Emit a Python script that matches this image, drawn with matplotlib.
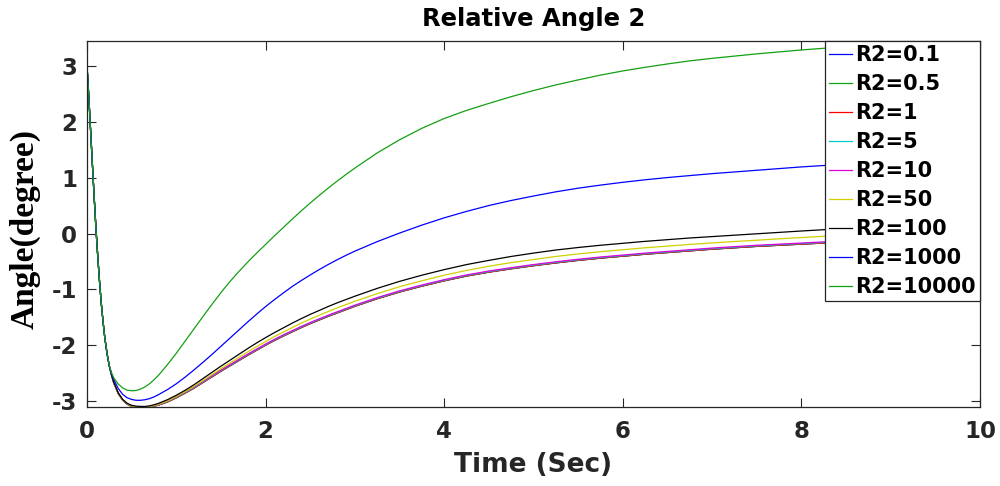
import matplotlib
matplotlib.use("Agg")
import matplotlib.pyplot as plt

# Simulation time (s)
time_s = [0.00, 0.02, 0.04, 0.06, 0.08, 0.10, 0.12, 0.14, 0.16, 0.18,
          0.20, 0.225, 0.25, 0.275, 0.30, 0.35, 0.40, 0.45, 0.50, 0.55,
          0.60, 0.65, 0.70, 0.75, 0.80,
          0.9, 1.0, 1.1, 1.2, 1.3, 1.4, 1.5, 1.6, 1.7, 1.8, 1.9,
          2.0, 2.1, 2.2, 2.3, 2.4, 2.5, 2.6, 2.7, 2.8, 2.9, 3.0,
          3.25, 3.5, 3.75, 4.0, 4.25, 4.5, 4.75, 5.0, 5.25, 5.5, 5.75,
          6.0, 6.25, 6.5, 6.75, 7.0, 7.25, 7.5, 7.75, 8.0, 8.25, 8.5,
          8.75, 9.0, 9.25, 9.5, 9.75, 10.0]

# Relative angle 2 (degree) for each R2 setting
angle_r2_0p1 = [3.00, 2.45, 1.85, 1.25, 0.66, 0.10, -0.40, -0.85, -1.25, -1.58,
                -1.87, -2.15, -2.37, -2.53, -2.67, -2.86, -2.98, -3.05, -3.09, -3.105,
                -3.11, -3.11, -3.10, -3.085, -3.065,
                -3.01, -2.935, -2.85, -2.76, -2.66, -2.56, -2.46, -2.365, -2.27, -2.175, -2.085,
                -1.995, -1.91, -1.83, -1.755, -1.68, -1.61, -1.545, -1.48, -1.42, -1.36, -1.30,
                -1.165, -1.045, -0.94, -0.845, -0.76, -0.69, -0.63, -0.575, -0.525, -0.48, -0.44,
                -0.405, -0.37, -0.34, -0.31, -0.28, -0.255, -0.23, -0.21, -0.19, -0.17, -0.152,
                -0.135, -0.12, -0.105, -0.09, -0.077, -0.065]
angle_r2_0p5 = [3.00, 2.45, 1.85, 1.25, 0.66, 0.10, -0.40, -0.85, -1.25, -1.58,
                -1.87, -2.15, -2.37, -2.53, -2.67, -2.86, -2.98, -3.05, -3.09, -3.105,
                -3.11, -3.11, -3.10, -3.085, -3.065,
                -3.01, -2.935, -2.85, -2.76, -2.66, -2.56, -2.46, -2.365, -2.27, -2.175, -2.085,
                -1.995, -1.91, -1.83, -1.755, -1.68, -1.61, -1.545, -1.48, -1.42, -1.36, -1.30,
                -1.165, -1.045, -0.94, -0.845, -0.76, -0.69, -0.63, -0.575, -0.525, -0.48, -0.44,
                -0.405, -0.37, -0.34, -0.31, -0.28, -0.255, -0.23, -0.21, -0.19, -0.17, -0.152,
                -0.135, -0.12, -0.105, -0.09, -0.077, -0.065]
angle_r2_1 = [3.00, 2.45, 1.85, 1.25, 0.66, 0.10, -0.40, -0.85, -1.25, -1.58,
              -1.87, -2.15, -2.37, -2.53, -2.67, -2.86, -2.98, -3.05, -3.09, -3.105,
              -3.11, -3.11, -3.10, -3.085, -3.065,
              -3.01, -2.935, -2.85, -2.76, -2.66, -2.56, -2.46, -2.365, -2.27, -2.175, -2.085,
              -1.995, -1.91, -1.83, -1.755, -1.68, -1.61, -1.545, -1.48, -1.42, -1.36, -1.30,
              -1.165, -1.045, -0.94, -0.845, -0.76, -0.69, -0.63, -0.575, -0.525, -0.48, -0.44,
              -0.405, -0.37, -0.34, -0.31, -0.28, -0.255, -0.23, -0.21, -0.19, -0.17, -0.152,
              -0.135, -0.12, -0.105, -0.09, -0.077, -0.065]
angle_r2_5 = [3.00, 2.45, 1.85, 1.25, 0.66, 0.10, -0.40, -0.85, -1.25, -1.58,
              -1.87, -2.15, -2.37, -2.53, -2.67, -2.855, -2.975, -3.045, -3.085, -3.10,
              -3.105, -3.105, -3.095, -3.08, -3.06,
              -3.00, -2.925, -2.84, -2.75, -2.65, -2.55, -2.45, -2.355, -2.26, -2.165, -2.075,
              -1.985, -1.90, -1.82, -1.745, -1.67, -1.60, -1.535, -1.47, -1.41, -1.35, -1.29,
              -1.155, -1.035, -0.93, -0.835, -0.75, -0.68, -0.62, -0.565, -0.515, -0.47, -0.43,
              -0.395, -0.36, -0.33, -0.30, -0.27, -0.245, -0.22, -0.20, -0.18, -0.16, -0.142,
              -0.125, -0.11, -0.095, -0.08, -0.067, -0.055]
angle_r2_10 = [3.00, 2.45, 1.85, 1.25, 0.66, 0.10, -0.40, -0.85, -1.25, -1.58,
               -1.87, -2.15, -2.37, -2.53, -2.67, -2.85, -2.97, -3.04, -3.08, -3.095,
               -3.10, -3.10, -3.09, -3.075, -3.055,
               -2.99, -2.915, -2.83, -2.74, -2.64, -2.54, -2.44, -2.345, -2.25, -2.155, -2.065,
               -1.975, -1.89, -1.81, -1.735, -1.66, -1.59, -1.525, -1.46, -1.40, -1.34, -1.28,
               -1.145, -1.025, -0.92, -0.825, -0.74, -0.67, -0.61, -0.555, -0.505, -0.46, -0.42,
               -0.385, -0.35, -0.32, -0.29, -0.26, -0.235, -0.21, -0.19, -0.17, -0.15, -0.132,
               -0.115, -0.10, -0.085, -0.07, -0.057, -0.045]
angle_r2_50 = [3.00, 2.45, 1.85, 1.25, 0.66, 0.10, -0.40, -0.85, -1.25, -1.58,
               -1.87, -2.15, -2.37, -2.53, -2.665, -2.855, -2.97, -3.04, -3.08, -3.095,
               -3.10, -3.10, -3.09, -3.073, -3.05,
               -2.99, -2.91, -2.825, -2.73, -2.625, -2.52, -2.415, -2.315, -2.215, -2.115, -2.02,
               -1.93, -1.84, -1.76, -1.68, -1.60, -1.53, -1.46, -1.395, -1.33, -1.27, -1.21,
               -1.075, -0.95, -0.845, -0.745, -0.66, -0.585, -0.52, -0.465, -0.41, -0.365, -0.325,
               -0.29, -0.255, -0.225, -0.195, -0.168, -0.143, -0.12, -0.095, -0.072, -0.05, -0.03,
               -0.013, 0.003, 0.018, 0.032, 0.045, 0.057]
angle_r2_100 = [3.00, 2.45, 1.85, 1.25, 0.66, 0.10, -0.40, -0.85, -1.25, -1.58,
                -1.87, -2.15, -2.37, -2.53, -2.66, -2.85, -2.965, -3.035, -3.07, -3.085,
                -3.09, -3.09, -3.08, -3.06, -3.035,
                -2.97, -2.89, -2.80, -2.70, -2.59, -2.48, -2.37, -2.265, -2.16, -2.055, -1.955,
                -1.86, -1.77, -1.685, -1.60, -1.52, -1.445, -1.375, -1.305, -1.24, -1.18, -1.12,
                -0.98, -0.855, -0.745, -0.645, -0.555, -0.48, -0.41, -0.35, -0.295, -0.25, -0.21,
                -0.175, -0.14, -0.11, -0.08, -0.055, -0.03, -0.005, 0.02, 0.045, 0.068, 0.09,
                0.108, 0.125, 0.14, 0.155, 0.168, 0.18]
angle_r2_1000 = [3.00, 2.45, 1.85, 1.25, 0.66, 0.10, -0.40, -0.85, -1.25, -1.58,
                 -1.87, -2.15, -2.37, -2.50, -2.61, -2.77, -2.875, -2.935, -2.965, -2.98,
                 -2.98, -2.97, -2.95, -2.92, -2.88,
                 -2.79, -2.685, -2.565, -2.435, -2.30, -2.16, -2.015, -1.87, -1.725, -1.58, -1.44,
                 -1.305, -1.18, -1.06, -0.945, -0.84, -0.74, -0.645, -0.555, -0.47, -0.39, -0.315,
                 -0.145, 0.008, 0.15, 0.28, 0.395, 0.50, 0.59, 0.67, 0.745, 0.81, 0.865,
                 0.915, 0.96, 1.00, 1.035, 1.07, 1.10, 1.13, 1.16, 1.19, 1.215, 1.24,
                 1.26, 1.28, 1.30, 1.315, 1.33, 1.345]
angle_r2_10000 = [3.00, 2.45, 1.85, 1.25, 0.66, 0.10, -0.40, -0.85, -1.25, -1.58,
                  -1.87, -2.15, -2.37, -2.49, -2.58, -2.69, -2.76, -2.80, -2.81, -2.805,
                  -2.78, -2.74, -2.685, -2.615, -2.535,
                  -2.345, -2.14, -1.92, -1.70, -1.48, -1.265, -1.055, -0.86, -0.68, -0.51, -0.35,
                  -0.195, -0.04, 0.11, 0.26, 0.405, 0.545, 0.68, 0.81, 0.935, 1.055, 1.17,
                  1.44, 1.675, 1.88, 2.055, 2.20, 2.325, 2.445, 2.555, 2.655, 2.745, 2.83,
                  2.905, 2.97, 3.03, 3.085, 3.13, 3.17, 3.21, 3.245, 3.28, 3.31, 3.34,
                  3.365, 3.385, 3.40, 3.415, 3.43, 3.44]

labels = ["R2=0.1", "R2=0.5", "R2=1", "R2=5", "R2=10",
          "R2=50", "R2=100", "R2=1000", "R2=10000"]
series = [angle_r2_0p1, angle_r2_0p5, angle_r2_1, angle_r2_5, angle_r2_10,
          angle_r2_50, angle_r2_100, angle_r2_1000, angle_r2_10000]
colors = ["#0000ff", "#14a014", "#ff0000", "#00c8c8", "#e000e0",
          "#d0d000", "#000000", "#0000ff", "#14a014"]

x_ticks = [0, 2, 4, 6, 8, 10]
y_ticks = [-3, -2, -1, 0, 1, 2, 3]

sans = "DejaVu Sans"
axis_color = "#262626"

fig = plt.figure(figsize=(10.0, 4.86), dpi=100)
ax = fig.add_axes([0.087, 1 - 407 / 486, 0.893, 366 / 486])

for values, label, color in zip(series, labels, colors):
    ax.plot(time_s, values, color=color, lw=0.9, label=label)

ax.set_xlim(0, 10)
ax.set_ylim(-3.10, 3.44)
ax.set_xticks(x_ticks)
ax.set_yticks(y_ticks)
ax.set_xticklabels([str(v) for v in x_ticks])
ax.set_yticklabels([str(v) for v in y_ticks])

ax.tick_params(direction="in", top=True, right=True, length=6.5, width=0.8,
               color=axis_color, labelcolor=axis_color, labelsize=16.5)
ax.tick_params(axis="x", pad=9)
ax.tick_params(axis="y", pad=7)
for lab in ax.get_xticklabels() + ax.get_yticklabels():
    lab.set_fontfamily(sans)
    lab.set_fontweight("bold")
for spine in ax.spines.values():
    spine.set_color(axis_color)
    spine.set_linewidth(0.9)

ax.set_title("Relative Angle 2", fontsize=17.5, fontweight="bold", family=sans,
             y=1 + (41 - 19) / 366, pad=0, va="center", color="#000000")
ax.set_xlabel("Time (Sec)", fontsize=19, fontweight="bold", family=sans,
              va="center", color=axis_color)
ax.xaxis.set_label_coords(0.5, -(465 - 407) / 366)
ax.set_ylabel("Angle(degree)", fontsize=24, fontweight="bold",
              family="Liberation Serif", va="center", ha="center", color="#000000")
ax.yaxis.set_label_coords(-(87 - 25) / 893, (407 - 229) / 366)

leg = ax.legend(loc="upper right", bbox_to_anchor=(1.0, 1.0), borderaxespad=0.0,
                prop={"family": sans, "weight": "bold", "size": 15},
                handlelength=1.1, handletextpad=0.15, borderpad=0.2,
                labelspacing=0.43, fancybox=False, framealpha=1.0,
                edgecolor="#262626")
leg.get_frame().set_linewidth(0.9)
for txt in leg.get_texts():
    txt.set_color("#000000")

fig.savefig("out.png", dpi=100)
